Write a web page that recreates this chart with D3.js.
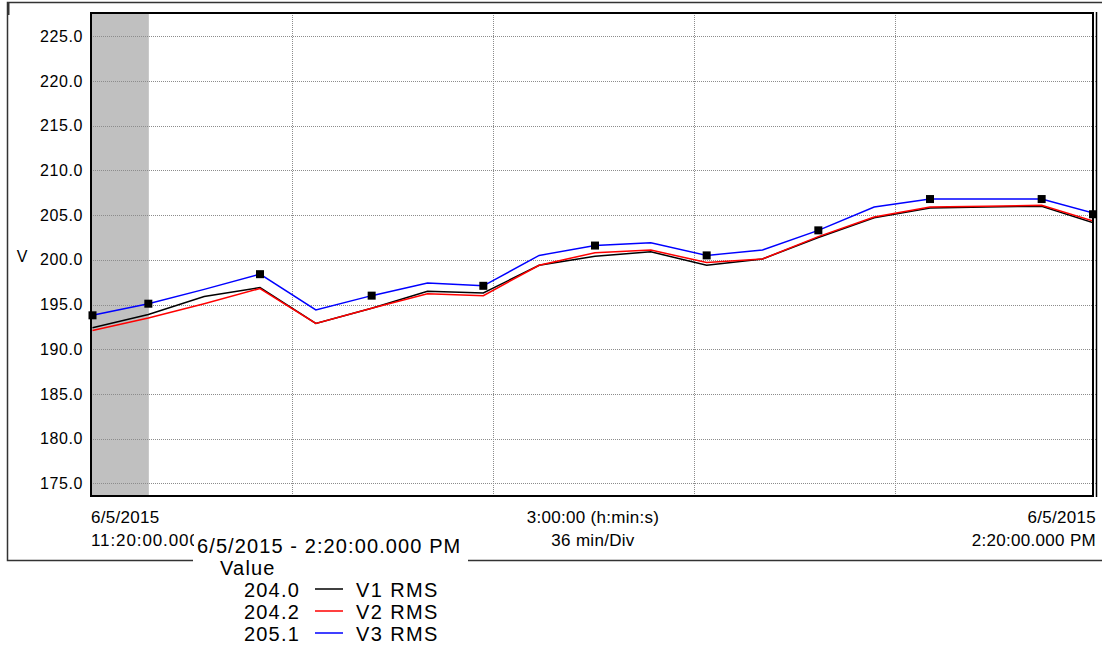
<!DOCTYPE html>
<html>
<head>
<meta charset="utf-8">
<script src="https://cdn.jsdelivr.net/npm/d3@7"></script>
<style>
  body { margin: 0; background: #fff; }
  svg { display: block; font-family: "Liberation Sans", Arial, sans-serif; }
  .grid line { stroke: #8c8c8c; stroke-dasharray: 1 1; shape-rendering: crispEdges; }
  .grid .domain { display: none; }
  .yaxis .domain { display: none; }
  .yaxis text { font-size: 16px; fill: #000; letter-spacing: 0.6px; }
</style>
</head>
<body>
<svg id="chart" width="1102" height="646"></svg>
<script>
// Sample times (every 10 min) and the three RMS voltage series
const times = ["11:20", "11:30", "11:40", "11:50", "12:00", "12:10", "12:20", "12:30", "12:40", "12:50",
  "13:00", "13:10", "13:20", "13:30", "13:40", "13:50", "14:00", "14:10", "14:20"];
const v1 = [192.4, 193.9, 195.9, 196.9, 192.9, 194.6, 196.5, 196.3, 199.4, 200.4,
  200.9, 199.4, 200.1, 202.5, 204.7, 205.8, 205.9, 206.0, 204.0];
const v2 = [192.1, 193.5, 195.1, 196.8, 192.9, 194.6, 196.2, 196.0, 199.4, 200.8,
  201.1, 199.7, 200.1, 202.6, 204.8, 205.9, 206.0, 206.1, 204.2];
const v3 = [193.8, 195.1, 196.7, 198.4, 194.4, 196.0, 197.4, 197.1, 200.5, 201.6,
  201.9, 200.5, 201.1, 203.3, 205.9, 206.8, 206.8, 206.8, 205.1];
// indices of the sample markers drawn on V3
const markerIdx = [0, 1, 3, 5, 7, 9, 11, 13, 15, 17, 18];
const yTicks = [175, 180, 185, 190, 195, 200, 205, 210, 215, 220, 225];
const xGridTimes = ["11:56", "12:32", "13:08", "13:44"];
const shadeEnd = "11:30";

const seriesNames = ["V1 RMS", "V2 RMS", "V3 RMS"];
const seriesColors = ["#000000", "#ff0000", "#0000ff"];
const legendValues = ["204.0", "204.2", "205.1"];

const parse = d3.timeParse("%H:%M");
const svg = d3.select("#chart");

// plot area
const pLeft = 91, pRight = 1096, pTop = 13, pBottom = 496;

const x = d3.scaleTime()
  .domain([parse(times[0]), parse(times[times.length - 1])])
  .range([pLeft, pRight]);
const y = d3.scaleLinear()
  .domain([173.6, 227.6])
  .range([pBottom, pTop]);

// outer frame
svg.append("path")
  .attr("d", `M1102,2.5 H7.5 V560.5 H193 M468,560.5 H1102`)
  .attr("fill", "none")
  .attr("stroke", "#333")
  .attr("stroke-width", 1.5);
svg.append("rect").attr("x", 7).attr("y", 3).attr("width", 2.5).attr("height", 12).attr("fill", "#333");

// shaded start region
svg.append("rect")
  .attr("x", pLeft)
  .attr("y", pTop)
  .attr("width", x(parse(shadeEnd)) - pLeft + 2)
  .attr("height", pBottom - pTop)
  .attr("fill", "#c0c0c0");

// horizontal grid
svg.append("g")
  .attr("class", "grid")
  .attr("transform", `translate(${pLeft},0)`)
  .call(d3.axisLeft(y).tickValues(yTicks).tickSize(-(pRight - pLeft)).tickFormat(""));

// vertical grid
svg.append("g")
  .attr("class", "grid")
  .attr("transform", `translate(0,${pBottom})`)
  .call(d3.axisBottom(x).tickValues(xGridTimes.map(parse)).tickSize(-(pBottom - pTop)).tickFormat(""));

// y axis labels
svg.append("g")
  .attr("class", "yaxis")
  .attr("transform", `translate(${pLeft - 6},0)`)
  .call(d3.axisLeft(y).tickValues(yTicks).tickSize(0).tickPadding(2).tickFormat(d3.format(".1f")));

svg.append("text")
  .attr("x", 22).attr("y", 262)
  .attr("text-anchor", "middle")
  .attr("font-size", 16)
  .text("V");

// lines
const line = d3.line()
  .x((d, i) => x(parse(times[i])) + 1.5)
  .y((d) => y(d));

svg.append("clipPath").attr("id", "clip")
  .append("rect").attr("x", pLeft).attr("y", pTop).attr("width", pRight - pLeft - 2).attr("height", pBottom - pTop);

const plot = svg.append("g").attr("clip-path", "url(#clip)");
[v1, v3, v2].forEach(function (s) {
  const idx = [v1, v2, v3].indexOf(s);
  plot.append("path")
    .datum(s)
    .attr("fill", "none")
    .attr("stroke", seriesColors[idx])
    .attr("stroke-width", 1.5)
    .attr("d", line);
});

// markers on V3
svg.append("g")
  .selectAll("rect")
  .data(markerIdx)
  .join("rect")
  .attr("x", (i) => Math.min(x(parse(times[i])) + 1.5, pRight - 3) - 4)
  .attr("y", (i) => y(v3[i]) - 4)
  .attr("width", 8)
  .attr("height", 8)
  .attr("fill", "#000");

// plot border
svg.append("rect")
  .attr("x", pLeft).attr("y", pTop)
  .attr("width", pRight - pLeft - 3).attr("height", pBottom - pTop)
  .attr("fill", "none").attr("stroke", "#000").attr("stroke-width", 2);
svg.append("line")
  .attr("x1", pRight + 0.5).attr("x2", pRight + 0.5)
  .attr("y1", pTop - 1).attr("y2", pBottom + 1)
  .attr("stroke", "#000").attr("stroke-width", 1.5);

// x axis labels
const xl = svg.append("g").attr("font-size", 17).attr("fill", "#000").attr("letter-spacing", 0.3);
xl.append("text").attr("x", pLeft).attr("y", 523).text("6/5/2015");
xl.append("text").attr("x", pLeft).attr("y", 546).attr("letter-spacing", 0.9).text("11:20:00.000");
xl.append("text").attr("x", 593).attr("y", 523).attr("text-anchor", "middle").text("3:00:00 (h:min:s)");
xl.append("text").attr("x", 593).attr("y", 546).attr("text-anchor", "middle").text("36 min/Div");
xl.append("text").attr("x", pRight).attr("y", 523).attr("text-anchor", "end").text("6/5/2015");
xl.append("text").attr("x", pRight).attr("y", 546).attr("text-anchor", "end").text("2:20:00.000 PM");

// legend box
const lg = svg.append("g");
lg.append("rect").attr("x", 194).attr("y", 534).attr("width", 272).attr("height", 112).attr("fill", "#fff");
lg.append("text").attr("x", 197).attr("y", 553).attr("font-size", 20).attr("letter-spacing", 1.1)
  .text("6/5/2015 - 2:20:00.000 PM");
lg.append("text").attr("x", 220).attr("y", 575).attr("font-size", 20).attr("letter-spacing", 1.2).text("Value");
const rows = lg.selectAll("g.row")
  .data(seriesNames)
  .join("g")
  .attr("class", "row")
  .attr("transform", (d, i) => `translate(0,${597 + i * 22})`);
rows.append("text").attr("x", 300).attr("text-anchor", "end").attr("font-size", 20).attr("letter-spacing", 1.2)
  .text((d, i) => legendValues[i]);
rows.append("line").attr("x1", 315).attr("x2", 343).attr("y1", -8).attr("y2", -8)
  .attr("stroke", (d, i) => seriesColors[i]).attr("stroke-width", 1.5);
rows.append("text").attr("x", 356).attr("font-size", 20).attr("letter-spacing", 1.4).text((d) => d);
</script>
</body>
</html>
